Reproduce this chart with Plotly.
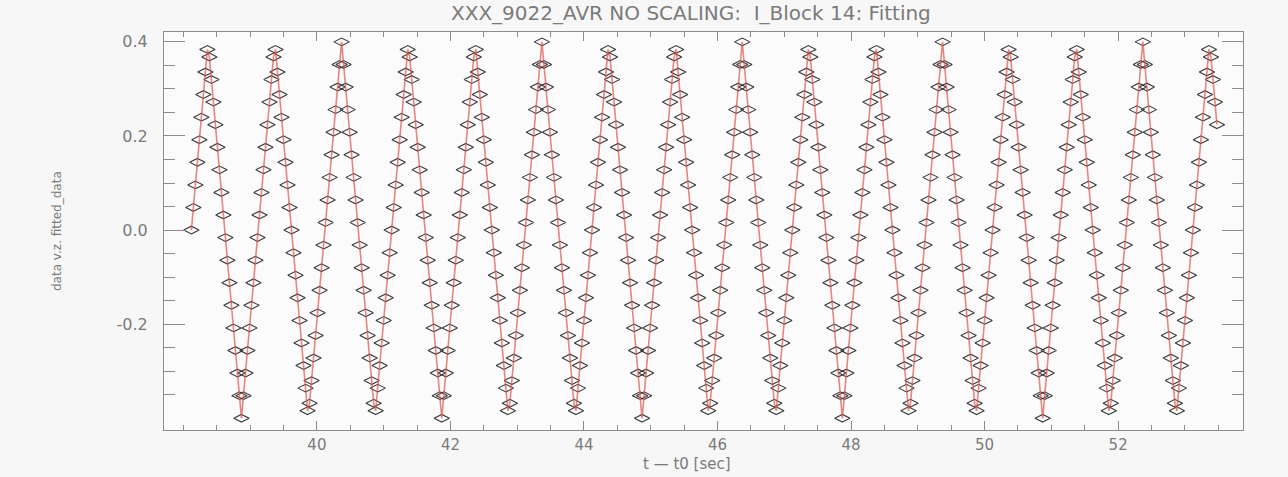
import plotly.graph_objects as go

# time axis (t - t0) [sec]
t_sec = [
    38.12, 38.15, 38.18, 38.21, 38.24, 38.27, 38.30, 38.33, 38.36, 38.39,
    38.42, 38.45, 38.48, 38.51, 38.54, 38.57, 38.60, 38.63, 38.66, 38.69,
    38.72, 38.75, 38.78, 38.81, 38.84, 38.87, 38.90, 38.93, 38.96, 38.99,
    39.02, 39.05, 39.08, 39.11, 39.14, 39.17, 39.20, 39.23, 39.26, 39.29,
    39.32, 39.35, 39.38, 39.41, 39.44, 39.47, 39.50, 39.53, 39.56, 39.59,
    39.62, 39.65, 39.68, 39.71, 39.74, 39.77, 39.80, 39.83, 39.86, 39.89,
    39.92, 39.95, 39.98, 40.01, 40.04, 40.07, 40.10, 40.13, 40.16, 40.19,
    40.22, 40.25, 40.28, 40.31, 40.34, 40.37, 40.40, 40.43, 40.46, 40.49,
    40.52, 40.55, 40.58, 40.61, 40.64, 40.67, 40.70, 40.73, 40.76, 40.79,
    40.82, 40.85, 40.88, 40.91, 40.94, 40.97, 41.00, 41.03, 41.06, 41.09,
    41.12, 41.15, 41.18, 41.21, 41.24, 41.27, 41.30, 41.33, 41.36, 41.39,
    41.42, 41.45, 41.48, 41.51, 41.54, 41.57, 41.60, 41.63, 41.66, 41.69,
    41.72, 41.75, 41.78, 41.81, 41.84, 41.87, 41.90, 41.93, 41.96, 41.99,
    42.02, 42.05, 42.08, 42.11, 42.14, 42.17, 42.20, 42.23, 42.26, 42.29,
    42.32, 42.35, 42.38, 42.41, 42.44, 42.47, 42.50, 42.53, 42.56, 42.59,
    42.62, 42.65, 42.68, 42.71, 42.74, 42.77, 42.80, 42.83, 42.86, 42.89,
    42.92, 42.95, 42.98, 43.01, 43.04, 43.07, 43.10, 43.13, 43.16, 43.19,
    43.22, 43.25, 43.28, 43.31, 43.34, 43.37, 43.40, 43.43, 43.46, 43.49,
    43.52, 43.55, 43.58, 43.61, 43.64, 43.67, 43.70, 43.73, 43.76, 43.79,
    43.82, 43.85, 43.88, 43.91, 43.94, 43.97, 44.00, 44.03, 44.06, 44.09,
    44.12, 44.15, 44.18, 44.21, 44.24, 44.27, 44.30, 44.33, 44.36, 44.39,
    44.42, 44.45, 44.48, 44.51, 44.54, 44.57, 44.60, 44.63, 44.66, 44.69,
    44.72, 44.75, 44.78, 44.81, 44.84, 44.87, 44.90, 44.93, 44.96, 44.99,
    45.02, 45.05, 45.08, 45.11, 45.14, 45.17, 45.20, 45.23, 45.26, 45.29,
    45.32, 45.35, 45.38, 45.41, 45.44, 45.47, 45.50, 45.53, 45.56, 45.59,
    45.62, 45.65, 45.68, 45.71, 45.74, 45.77, 45.80, 45.83, 45.86, 45.89,
    45.92, 45.95, 45.98, 46.01, 46.04, 46.07, 46.10, 46.13, 46.16, 46.19,
    46.22, 46.25, 46.28, 46.31, 46.34, 46.37, 46.40, 46.43, 46.46, 46.49,
    46.52, 46.55, 46.58, 46.61, 46.64, 46.67, 46.70, 46.73, 46.76, 46.79,
    46.82, 46.85, 46.88, 46.91, 46.94, 46.97, 47.00, 47.03, 47.06, 47.09,
    47.12, 47.15, 47.18, 47.21, 47.24, 47.27, 47.30, 47.33, 47.36, 47.39,
    47.42, 47.45, 47.48, 47.51, 47.54, 47.57, 47.60, 47.63, 47.66, 47.69,
    47.72, 47.75, 47.78, 47.81, 47.84, 47.87, 47.90, 47.93, 47.96, 47.99,
    48.02, 48.05, 48.08, 48.11, 48.14, 48.17, 48.20, 48.23, 48.26, 48.29,
    48.32, 48.35, 48.38, 48.41, 48.44, 48.47, 48.50, 48.53, 48.56, 48.59,
    48.62, 48.65, 48.68, 48.71, 48.74, 48.77, 48.80, 48.83, 48.86, 48.89,
    48.92, 48.95, 48.98, 49.01, 49.04, 49.07, 49.10, 49.13, 49.16, 49.19,
    49.22, 49.25, 49.28, 49.31, 49.34, 49.37, 49.40, 49.43, 49.46, 49.49,
    49.52, 49.55, 49.58, 49.61, 49.64, 49.67, 49.70, 49.73, 49.76, 49.79,
    49.82, 49.85, 49.88, 49.91, 49.94, 49.97, 50.00, 50.03, 50.06, 50.09,
    50.12, 50.15, 50.18, 50.21, 50.24, 50.27, 50.30, 50.33, 50.36, 50.39,
    50.42, 50.45, 50.48, 50.51, 50.54, 50.57, 50.60, 50.63, 50.66, 50.69,
    50.72, 50.75, 50.78, 50.81, 50.84, 50.87, 50.90, 50.93, 50.96, 50.99,
    51.02, 51.05, 51.08, 51.11, 51.14, 51.17, 51.20, 51.23, 51.26, 51.29,
    51.32, 51.35, 51.38, 51.41, 51.44, 51.47, 51.50, 51.53, 51.56, 51.59,
    51.62, 51.65, 51.68, 51.71, 51.74, 51.77, 51.80, 51.83, 51.86, 51.89,
    51.92, 51.95, 51.98, 52.01, 52.04, 52.07, 52.10, 52.13, 52.16, 52.19,
    52.22, 52.25, 52.28, 52.31, 52.34, 52.37, 52.40, 52.43, 52.46, 52.49,
    52.52, 52.55, 52.58, 52.61, 52.64, 52.67, 52.70, 52.73, 52.76, 52.79,
    52.82, 52.85, 52.88, 52.91, 52.94, 52.97, 53.00, 53.03, 53.06, 53.09,
    53.12, 53.15, 53.18, 53.21, 53.24, 53.27, 53.30, 53.33, 53.36, 53.39,
    53.42, 53.45, 53.48,
]

# measured data (diamonds)
data_vz = [
    0.000, 0.048, 0.096, 0.144, 0.192, 0.240, 0.288, 0.336, 0.384, 0.368,
    0.320, 0.272, 0.224, 0.176, 0.128, 0.080, 0.032, -0.016, -0.064, -0.112,
    -0.160, -0.208, -0.256, -0.304, -0.352, -0.400, -0.352, -0.304, -0.256, -0.208,
    -0.160, -0.112, -0.064, -0.016, 0.032, 0.080, 0.128, 0.176, 0.224, 0.272,
    0.320, 0.368, 0.384, 0.336, 0.288, 0.240, 0.192, 0.144, 0.096, 0.048,
    0.000, -0.048, -0.096, -0.144, -0.192, -0.240, -0.288, -0.336, -0.384, -0.368,
    -0.320, -0.272, -0.224, -0.176, -0.128, -0.080, -0.032, 0.016, 0.064, 0.112,
    0.160, 0.208, 0.256, 0.304, 0.352, 0.400, 0.352, 0.304, 0.256, 0.208,
    0.160, 0.112, 0.064, 0.016, -0.032, -0.080, -0.128, -0.176, -0.224, -0.272,
    -0.320, -0.368, -0.384, -0.336, -0.288, -0.240, -0.192, -0.144, -0.096, -0.048,
    0.000, 0.048, 0.096, 0.144, 0.192, 0.240, 0.288, 0.336, 0.384, 0.368,
    0.320, 0.272, 0.224, 0.176, 0.128, 0.080, 0.032, -0.016, -0.064, -0.112,
    -0.160, -0.208, -0.256, -0.304, -0.352, -0.400, -0.352, -0.304, -0.256, -0.208,
    -0.160, -0.112, -0.064, -0.016, 0.032, 0.080, 0.128, 0.176, 0.224, 0.272,
    0.320, 0.368, 0.384, 0.336, 0.288, 0.240, 0.192, 0.144, 0.096, 0.048,
    0.000, -0.048, -0.096, -0.144, -0.192, -0.240, -0.288, -0.336, -0.384, -0.368,
    -0.320, -0.272, -0.224, -0.176, -0.128, -0.080, -0.032, 0.016, 0.064, 0.112,
    0.160, 0.208, 0.256, 0.304, 0.352, 0.400, 0.352, 0.304, 0.256, 0.208,
    0.160, 0.112, 0.064, 0.016, -0.032, -0.080, -0.128, -0.176, -0.224, -0.272,
    -0.320, -0.368, -0.384, -0.336, -0.288, -0.240, -0.192, -0.144, -0.096, -0.048,
    0.000, 0.048, 0.096, 0.144, 0.192, 0.240, 0.288, 0.336, 0.384, 0.368,
    0.320, 0.272, 0.224, 0.176, 0.128, 0.080, 0.032, -0.016, -0.064, -0.112,
    -0.160, -0.208, -0.256, -0.304, -0.352, -0.400, -0.352, -0.304, -0.256, -0.208,
    -0.160, -0.112, -0.064, -0.016, 0.032, 0.080, 0.128, 0.176, 0.224, 0.272,
    0.320, 0.368, 0.384, 0.336, 0.288, 0.240, 0.192, 0.144, 0.096, 0.048,
    0.000, -0.048, -0.096, -0.144, -0.192, -0.240, -0.288, -0.336, -0.384, -0.368,
    -0.320, -0.272, -0.224, -0.176, -0.128, -0.080, -0.032, 0.016, 0.064, 0.112,
    0.160, 0.208, 0.256, 0.304, 0.352, 0.400, 0.352, 0.304, 0.256, 0.208,
    0.160, 0.112, 0.064, 0.016, -0.032, -0.080, -0.128, -0.176, -0.224, -0.272,
    -0.320, -0.368, -0.384, -0.336, -0.288, -0.240, -0.192, -0.144, -0.096, -0.048,
    0.000, 0.048, 0.096, 0.144, 0.192, 0.240, 0.288, 0.336, 0.384, 0.368,
    0.320, 0.272, 0.224, 0.176, 0.128, 0.080, 0.032, -0.016, -0.064, -0.112,
    -0.160, -0.208, -0.256, -0.304, -0.352, -0.400, -0.352, -0.304, -0.256, -0.208,
    -0.160, -0.112, -0.064, -0.016, 0.032, 0.080, 0.128, 0.176, 0.224, 0.272,
    0.320, 0.368, 0.384, 0.336, 0.288, 0.240, 0.192, 0.144, 0.096, 0.048,
    0.000, -0.048, -0.096, -0.144, -0.192, -0.240, -0.288, -0.336, -0.384, -0.368,
    -0.320, -0.272, -0.224, -0.176, -0.128, -0.080, -0.032, 0.016, 0.064, 0.112,
    0.160, 0.208, 0.256, 0.304, 0.352, 0.400, 0.352, 0.304, 0.256, 0.208,
    0.160, 0.112, 0.064, 0.016, -0.032, -0.080, -0.128, -0.176, -0.224, -0.272,
    -0.320, -0.368, -0.384, -0.336, -0.288, -0.240, -0.192, -0.144, -0.096, -0.048,
    0.000, 0.048, 0.096, 0.144, 0.192, 0.240, 0.288, 0.336, 0.384, 0.368,
    0.320, 0.272, 0.224, 0.176, 0.128, 0.080, 0.032, -0.016, -0.064, -0.112,
    -0.160, -0.208, -0.256, -0.304, -0.352, -0.400, -0.352, -0.304, -0.256, -0.208,
    -0.160, -0.112, -0.064, -0.016, 0.032, 0.080, 0.128, 0.176, 0.224, 0.272,
    0.320, 0.368, 0.384, 0.336, 0.288, 0.240, 0.192, 0.144, 0.096, 0.048,
    0.000, -0.048, -0.096, -0.144, -0.192, -0.240, -0.288, -0.336, -0.384, -0.368,
    -0.320, -0.272, -0.224, -0.176, -0.128, -0.080, -0.032, 0.016, 0.064, 0.112,
    0.160, 0.208, 0.256, 0.304, 0.352, 0.400, 0.352, 0.304, 0.256, 0.208,
    0.160, 0.112, 0.064, 0.016, -0.032, -0.080, -0.128, -0.176, -0.224, -0.272,
    -0.320, -0.368, -0.384, -0.336, -0.288, -0.240, -0.192, -0.144, -0.096, -0.048,
    0.000, 0.048, 0.096, 0.144, 0.192, 0.240, 0.288, 0.336, 0.384, 0.368,
    0.320, 0.272, 0.224,
]

# fitted data (red line) follows the data closely
fitted_data = list(data_vz)

x_ticks = [40, 42, 44, 46, 48, 50, 52]
y_ticks = [-0.2, 0.0, 0.2, 0.4]
y_tick_text = ["-0.2", "0.0", "0.2", "0.4"]
y_minor = [-0.35, -0.3, -0.25, -0.15, -0.1, -0.05, 0.05, 0.1, 0.15, 0.25, 0.3, 0.35]

title_text = "XXX_9022_AVR NO SCALING:  I_Block 14: Fitting"
x_title = "t \u2014 t0 [sec]"
y_title = "data v.z. fitted_data"

AX = "#8c8c8c"
TXT = "#7a7a7a"
FONT = "DejaVu Sans"
W, H = 1288, 477
ML, MR, MT, MB = 164, 45, 32, 47
plot_h = H - MT - MB
plot_w = W - ML - MR

fig = go.Figure()
fig.add_trace(go.Scatter(
    x=t_sec, y=data_vz, mode="markers",
    marker=dict(symbol="diamond-wide-open", size=11, color="rgba(35,35,35,0.9)",
                line=dict(width=1.1)),
    showlegend=False, hoverinfo="skip",
))
fig.add_trace(go.Scatter(
    x=t_sec, y=fitted_data, mode="lines",
    line=dict(color="rgba(220,85,75,0.7)", width=1.6),
    showlegend=False, hoverinfo="skip",
))

fig.update_layout(
    width=W, height=H,
    margin=dict(l=ML, r=MR, t=MT, b=MB),
    paper_bgcolor="#f7f7f7", plot_bgcolor="#fbfbfb",
    font=dict(family=FONT, color=TXT, size=14),
    annotations=[
        dict(text=title_text, x=(691 - ML) / plot_w, xref="paper",
             y=1 + (MT - 13) / plot_h, yref="paper", showarrow=False,
             font=dict(size=20, color=TXT, family=FONT), yanchor="middle", xanchor="center"),
        dict(text=x_title, x=(687 - ML) / plot_w, xref="paper",
             y=-(464 - (H - MB)) / plot_h, yref="paper", showarrow=False,
             font=dict(size=15, color=TXT, family=FONT), yanchor="middle", xanchor="center"),
        dict(text=y_title, x=(57 - ML) / plot_w, xref="paper",
             y=0.5, yref="paper", showarrow=False,
             textangle=-90, font=dict(size=12, color=TXT, family=FONT), xanchor="center"),
    ],
)

fig.update_xaxes(
    range=[37.71, 53.87], tickvals=x_ticks, ticktext=[str(v) for v in x_ticks],
    ticks="inside", ticklen=9, tickcolor=AX, tickwidth=1,
    minor=dict(dtick=0.5, tick0=0, ticks="inside", ticklen=5, tickcolor=AX),
    showline=True, linecolor=AX, linewidth=1, mirror="allticks",
    showgrid=False, zeroline=False, ticklabelstandoff=1,
    tickfont=dict(size=15, color=TXT, family=FONT),
)
fig.update_yaxes(
    range=[-0.425, 0.421], tickvals=y_ticks, ticktext=y_tick_text,
    ticks="inside", ticklen=21, tickcolor=AX, tickwidth=1,
    minor=dict(tickvals=y_minor, ticks="inside", ticklen=11, tickcolor=AX),
    showline=True, linecolor=AX, linewidth=1, mirror="allticks",
    showgrid=False, zeroline=False, ticklabelstandoff=12,
    tickfont=dict(size=16, color=TXT, family=FONT),
)

fig.write_html(
    "out.html",
    config={"displayModeBar": False},
    post_script="document.body.style.margin='0';document.body.style.background='#f7f7f7';",
)
